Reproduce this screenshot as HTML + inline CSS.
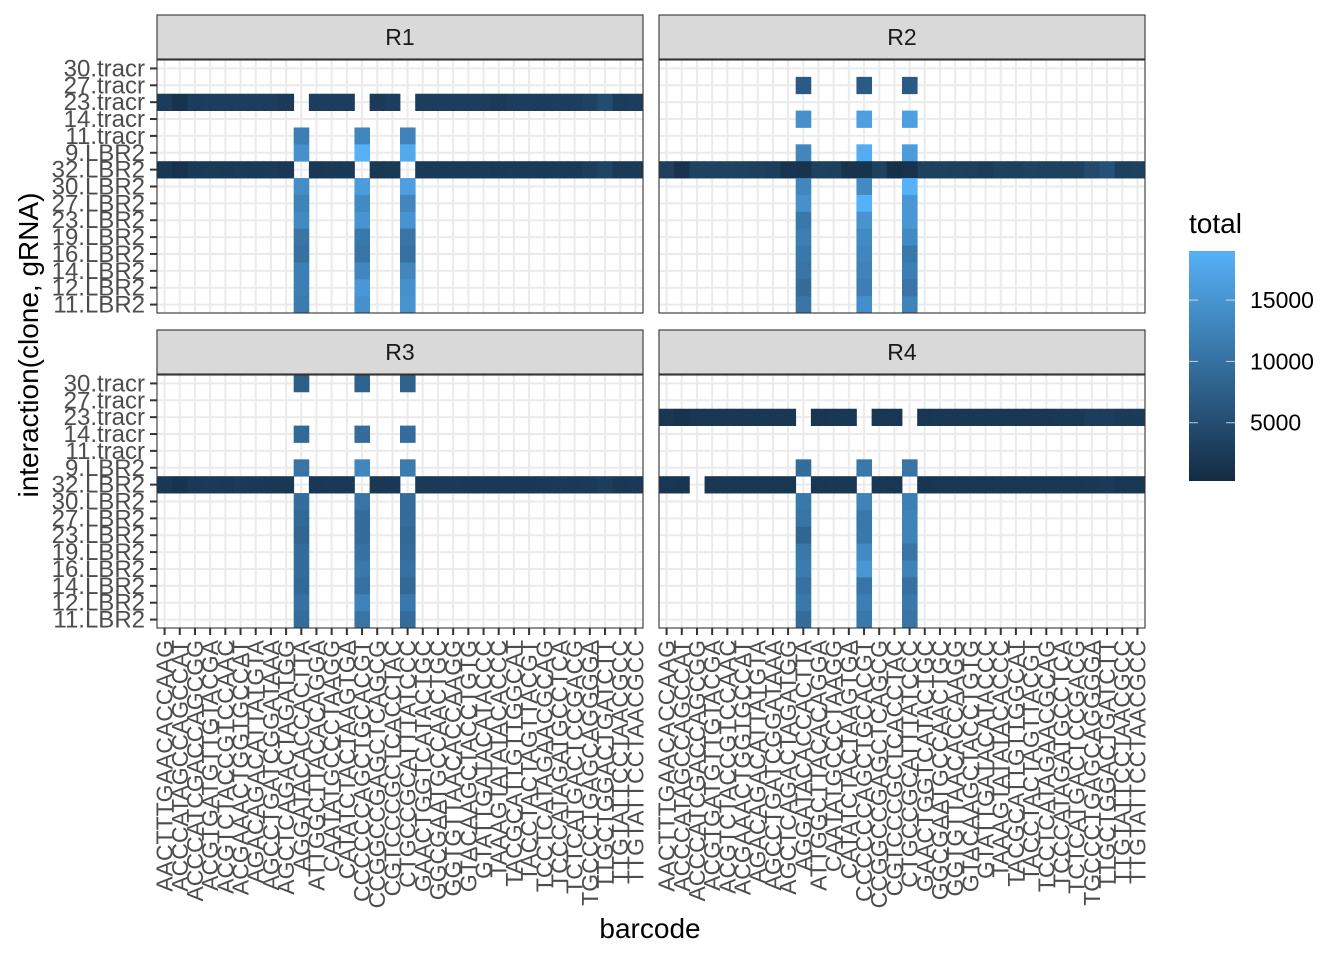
<!DOCTYPE html>
<html><head><meta charset="utf-8"><style>
body{margin:0;background:#fff;}
svg{display:block;font-family:"Liberation Sans",Arial,sans-serif;}
</style></head><body>
<svg id="chart" width="1344" height="960" viewBox="0 0 1344 960" xmlns="http://www.w3.org/2000/svg">
<rect width="1344" height="960" fill="#fff"/>
<g id="panels"></g>
<text x="650" y="938" font-size="28" text-anchor="middle" fill="#000">barcode</text>
<text transform="translate(38,345) rotate(-90)" font-size="28" text-anchor="middle" fill="#000">interaction(clone, gRNA)</text>
<g>
<text x="1189" y="233" font-size="28" fill="#000">total</text>
<defs><linearGradient id="lg" x1="0" y1="1" x2="0" y2="0"><stop offset="0" stop-color="#132B43"/><stop offset="1" stop-color="#56B1F7"/></linearGradient></defs>
<rect x="1189" y="251" width="46" height="230" fill="url(#lg)"/>
<g id="legticks"></g>
</g>
</svg>
<script>
const NS="http://www.w3.org/2000/svg";
const panelNames=["R1","R2","R3","R4"];
const rowLabels=["30.tracr","27.tracr","23.tracr","14.tracr","11.tracr","9.LBR2","32.LBR2","30.LBR2","27.LBR2","23.LBR2","19.LBR2","16.LBR2","14.LBR2","12.LBR2","11.LBR2"];
const barcodes=["AACTTTGAACACCAAG","ACCCATAGCCAGCCAT","ACCCATCGACCAGCGG","ACGTGATGTTGTACGA","ACGTCTACCGTCCAAC","ACGAAACTGGTGCCAT","AGACAGACATTATGTA","AGCCTGATCGGATAAA","AGCTCAGACTAGATGG","AGGATACACCACTTA","ATTGGCTTACACAGGA","CAATATGCCCTAAGG","CATATCTACTAAGTGA","CCCCCCAGCTGCACGT","CCGGCCGAGCTCAGCG","CGTCCCGCTCACCTAC","CTGCCGCATTTATCCC","GAACTGGTCATACTGC","GGCGAATGCCAACTGC","GGTGTTAACACCAAGG","GTACAAGCTACCTGTG","GTATTGATACATACCC","TAAAGTATATACACCC","TACGCATTGTTGGCAT","TACCTACTAGTTACGT","TCCTCATAGAACGCAG","TCCCATAGATGCCTCA","TCTCATGACTCCGACG","TGCCCTGAGCAGGGGA","TTGCTGGACTGATCTT","TTGTATTCCTAACGCC","TTGTATTCCTAACGCC"];
const legendBreaks=[5000,10000,15000];
const r1Row23tracr=[2600,1500,2600,2800,2700,2900,2800,2700,2300,null,2700,2900,2800,null,2500,2700,null,2700,2700,2900,2800,2700,2400,2800,2800,2600,2800,2900,3500,4800,2600,2700];
const r1Row32LBR2=[2000,1200,2200,2300,2200,2300,2200,2300,2100,null,2100,2200,2200,null,2000,2200,null,2300,2400,2400,2300,2300,2200,2300,2300,2200,2300,2200,2700,3600,2400,2300];
const r2Row32LBR2=[3000,1200,3400,3500,3400,3300,3200,2800,1600,3300,3300,3200,1400,3400,3300,900,3300,3300,3300,3200,3000,2600,3300,3200,3400,3300,3300,3300,4600,5600,3200,3300];
const r3Row32LBR2=[2100,1500,2200,2300,2200,2300,2200,2100,2000,null,2100,2200,2200,null,2000,2100,null,2300,2300,2300,2200,2200,2200,2200,2100,2200,2300,2200,2400,2900,2000,2200];
const r4Row23tracr=[1800,1300,1900,2000,2100,2100,2000,2100,2000,null,1900,2100,2000,null,1800,1900,null,1900,2000,2100,2000,2000,2000,2100,2100,2100,2200,2200,2700,2700,2500,2500];
const r4Row32LBR2=[1900,1700,null,1900,1900,1900,1900,1900,1900,null,1900,2000,1900,null,1900,1900,null,1700,1800,1800,1900,1900,1900,1900,1900,1900,1900,1900,2000,2300,1900,1900];
const r1Col9=[null,null,null,null,12000,14500,null,14000,12500,13500,10500,10000,12000,12000,11500];
const r1Col13=[null,null,null,null,13000,19000,null,16000,13500,15000,11000,10500,13000,15500,14500];
const r1Col16=[null,null,null,null,12500,18000,null,16500,13000,15000,10500,10000,13000,14500,15000];
const r2Col9=[null,7000,null,14500,null,13000,1400,13000,14500,11000,12000,11000,10500,9500,10500];
const r2Col13=[null,7000,null,16500,null,18500,1300,13500,19000,15000,13500,13000,12500,12000,14000];
const r2Col16=[null,7000,null,16500,null,16000,1200,19000,15500,15500,13500,11000,12000,10500,12500];
const r3Col9=[7500,null,null,9000,null,10500,null,9500,9000,8500,9500,9500,9000,10000,9500];
const r3Col13=[8000,null,null,9500,null,13000,null,10500,9500,9500,10000,11000,10000,12500,10500];
const r3Col16=[8000,null,null,9500,null,11500,null,9500,9500,9000,9500,10000,9000,11000,9500];
const r4Col9=[null,null,null,null,null,9500,null,11000,10500,8500,11000,11500,10000,11000,9500];
const r4Col13=[null,null,null,null,null,11000,null,12500,11000,11000,13500,15500,10500,12000,11000];
const r4Col16=[null,null,null,null,null,10500,null,12000,12500,12500,10500,12500,10000,11000,10500];

const panelRows=[{"2":r1Row23tracr,"6":r1Row32LBR2},{"6":r2Row32LBR2},{"6":r3Row32LBR2},{"2":r4Row23tracr,"6":r4Row32LBR2}];
const panelCols=[{"9":r1Col9,"13":r1Col13,"16":r1Col16},{"9":r2Col9,"13":r2Col13,"16":r2Col16},{"9":r3Col9,"13":r3Col13,"16":r3Col16},{"9":r4Col9,"13":r4Col13,"16":r4Col16}];

const vmin=250,vmax=19000;
function colorOf(v){
  let t=(v-vmin)/(vmax-vmin);t=Math.max(0,Math.min(1,t));
  const a=[0x13,0x2B,0x43],b=[0x56,0xB1,0xF7];
  const c=a.map((x,i)=>Math.round(x+(b[i]-x)*t));
  return `rgb(${c[0]},${c[1]},${c[2]})`;
}
const layout=[{x:157,y:60},{x:659,y:60},{x:157,y:375},{x:659,y:375}];
const PW=486,PH=253,NC=barcodes.length,NR=rowLabels.length;
const cw=PW/NC,rh=PH/NR;
function sx(i,px){return px+i*cw;}
function sy(j,py){return py+j*rh;}
function mk(tag,attrs,parent){const e=document.createElementNS(NS,tag);for(const k in attrs)e.setAttribute(k,attrs[k]);parent.appendChild(e);return e;}
const root=document.getElementById("panels");
panelNames.forEach((name,p)=>{
  const {x:px,y:py}=layout[p];
  const g=mk("g",{},root);
  
  
  const st=mk("rect",{x:px,y:py-45,width:PW,height:44,fill:"#D9D9D9",stroke:"#333",'stroke-width':1.1},g);
  
  
  const stt=mk("text",{x:px+PW/2,y:py-15,'font-size':23,'text-anchor':'middle',fill:'#1A1A1A'},g);
  stt.textContent=name;
  
  
  mk("rect",{x:px,y:py,width:PW,height:PH,fill:"#fff"},g);
  for(let i=0;i<NC;i++)mk("line",{x1:sx(i+0.5,px),x2:sx(i+0.5,px),y1:py,y2:py+PH,stroke:"#EBEBEB",'stroke-width':2},g);
  for(let j=0;j<NR;j++)mk("line",{x1:px,x2:px+PW,y1:sy(j+0.5,py),y2:sy(j+0.5,py),stroke:"#EBEBEB",'stroke-width':2},g);
  const rows=panelRows[p],cols=panelCols[p];
  for(const rk in rows){const j=+rk;rows[rk].forEach((v,i)=>{if(v==null)return;
    const r=mk("rect",{x:sx(i,px),y:sy(j,py),width:cw+0.4,height:rh+0.4,fill:colorOf(v)},g);
    
    });}
  for(const ck in cols){const i=+ck;cols[ck].forEach((v,j)=>{if(v==null)return;
    const r=mk("rect",{x:sx(i,px),y:sy(j,py),width:cw+0.4,height:rh+0.4,fill:colorOf(v)},g);
    
    });}
  mk("rect",{x:px,y:py,width:PW,height:PH,fill:"none",stroke:"#333",'stroke-width':1.1},g);
  if(p%2===0){rowLabels.forEach((lab,j)=>{const yy=sy(j+0.5,py);
    mk("line",{x1:px-7,x2:px,y1:yy,y2:yy,stroke:"#333",'stroke-width':2},g);
    const t=mk("text",{x:px-12,y:yy+8,'font-size':24,'text-anchor':'end',fill:'#4D4D4D'},g);
    t.textContent=lab;
    
    });}
  if(p>=2){barcodes.forEach((lab,i)=>{const xx=sx(i+0.5,px);
    mk("line",{x1:xx,x2:xx,y1:py+PH,y2:py+PH+7,stroke:"#333",'stroke-width':2},g);
    const t=mk("text",{transform:`translate(${xx+8},${py+PH+12}) rotate(-90)`,'font-size':23,'text-anchor':'end',fill:'#4D4D4D'},g);
    t.textContent=lab;
    
    });}
});
const lt=document.getElementById("legticks");
legendBreaks.forEach(b=>{
  const yy=481-(b-vmin)/(vmax-vmin)*230;
  mk("line",{x1:1189,x2:1198,y1:yy,y2:yy,stroke:"#fff",'stroke-width':1,'stroke-opacity':0.7},lt);
  mk("line",{x1:1226,x2:1235,y1:yy,y2:yy,stroke:"#fff",'stroke-width':1,'stroke-opacity':0.7},lt);
  const t=mk("text",{x:1250,y:yy+8,'font-size':23,fill:'#000'},lt);
  t.textContent=b;
  
  
});
</script>
</body></html>
